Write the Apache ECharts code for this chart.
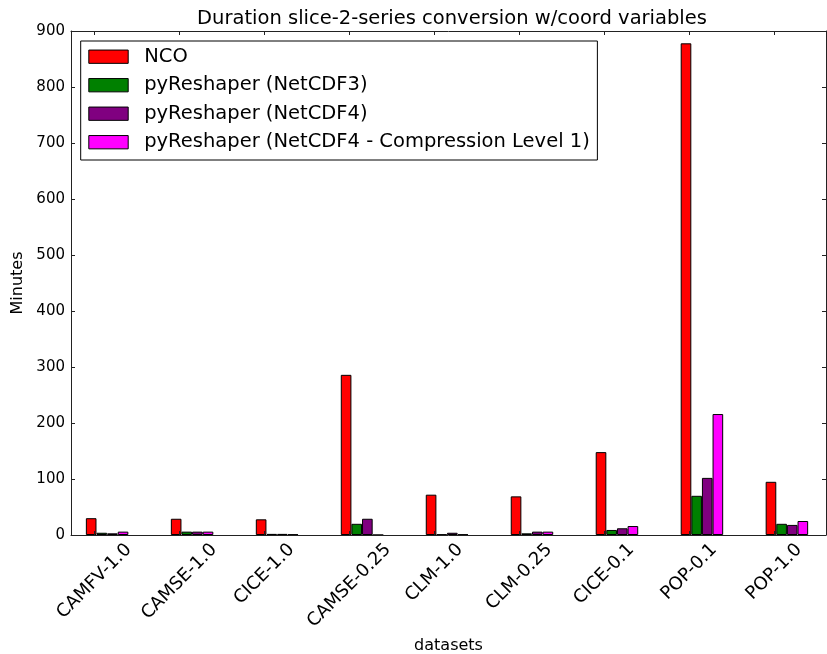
<!DOCTYPE html>
<html>
<head>
<meta charset="utf-8">
<script src="https://cdn.jsdelivr.net/npm/echarts@6/dist/echarts.min.js"></script>
<style>
html,body{margin:0;padding:0;background:#fff;}
#chart{width:827px;height:654px;}
</style>
</head>
<body>
<div id="chart"></div>
<script>
// ---- data ----
const categories = ['CAMFV-1.0','CAMSE-1.0','CICE-1.0','CAMSE-0.25','CLM-1.0','CLM-0.25','CICE-0.1','POP-0.1','POP-1.0'];
const seriesNames = ['NCO','pyReshaper (NetCDF3)','pyReshaper (NetCDF4)','pyReshaper (NetCDF4 - Compression Level 1)'];
const ncoValues      = [30, 29, 28, 286, 72, 69, 148, 878, 95];
const netcdf3Values  = [4, 6, 2, 20, 1, 3, 9, 70, 20];
const netcdf4Values  = [3, 6, 2, 29, 4, 6, 12, 102, 18];
const netcdf4cValues = [6, 6, 1, 0, 1, 6, 16, 216, 25];
const yTickValues = [0,100,200,300,400,500,600,700,800,900];

// ---- layout / style ----
const FONT = 'DejaVu Sans';
const colors = ['#ff0000','#008000','#800080','#ff00ff'];
const allValues = [ncoValues, netcdf3Values, netcdf4Values, netcdf4cValues];
const BAR_W = 0.125;      // bar width in axis units
const TICK_OFF = 0.1;     // tick offset from group origin
const X_MIN = -0.175, X_MAX = 8.71;
const GRID = {left:71, right:1, top:31, bottom:119};
const plotW = 827 - GRID.left - GRID.right;
const barPx = BAR_W * plotW / (X_MAX - X_MIN);

const tickVals = categories.map((c,i)=> i + TICK_OFF);

// per-label shift so rotated labels hang like matplotlib (bbox top at fixed y, centred on tick)
const LABEL_FS = 18;
const ctx = document.createElement('canvas').getContext('2d');
ctx.font = LABEL_FS + 'px "' + FONT + '"';
const rich = {};
categories.forEach((c,i)=>{
  const w = ctx.measureText(c).width - 2;
  const d = 8 + 0.3536 * (w + 0.729 * LABEL_FS);
  const p = 1.4142 * d;
  rich['l'+i] = {fontSize: LABEL_FS, fontFamily: FONT, color:'#000', padding:[p, p, 0, 0]};
});

const axisLineStyle = {color:'#222', width:1};

const series = allValues.map((vals, j) => ({
  name: seriesNames[j],
  type: 'bar',
  barWidth: barPx,
  barGap: '-100%',
  data: vals.map((v,i)=> [i + (j + 0.5) * BAR_W, v]),
  itemStyle: {color: colors[j], borderColor:'#000', borderWidth:1},
  emphasis: {disabled:true}
}));

const chart = echarts.init(document.getElementById('chart'), null, {renderer:'canvas'});
chart.setOption({
  animation: false,
  backgroundColor: '#fff',
  title: {
    text: 'Duration slice-2-series conversion w/coord variables',
    left: 452, top: 9, padding: 0, textAlign: 'center',
    textStyle: {fontFamily: FONT, fontSize: 19.5, fontWeight:'normal', color:'#000'}
  },
  legend: {
    orient: 'vertical', left: 80.7, top: 41,
    padding: [5.7, 7.6, 7.8, 7.6],
    itemWidth: 39.4, itemHeight: 13.3, itemGap: 8.5,
    icon: 'rect',
    itemStyle: {borderColor:'#000', borderWidth:1},
    textStyle: {fontFamily: FONT, fontSize: 19.5, color:'#000', lineHeight: 20, padding:[0,0,0,11]},
    backgroundColor: '#fff', borderColor: '#000', borderWidth: 1, borderRadius: 0,
    selectedMode: false,
    data: seriesNames
  },
  grid: {left: GRID.left, right: GRID.right, top: GRID.top, bottom: GRID.bottom, containLabel:false, outerBoundsMode:'none'},
  xAxis: [
    {
      type: 'value', position: 'bottom', min: X_MIN, max: X_MAX, z: 3,
      axisLine: {show:true, onZero:false, lineStyle: axisLineStyle},
      axisTick: {show:true, inside:true, length:4, customValues: tickVals, lineStyle: axisLineStyle},
      axisLabel: {
        show: true, customValues: tickVals, rotate: 45, margin: 0,
        align: 'center', verticalAlign: 'middle',
        formatter: (v)=> { const i = Math.round(v - TICK_OFF); return '{l'+i+'|'+categories[i]+'}'; },
        rich: rich
      },
      splitLine: {show:false},
      name: 'datasets', nameLocation: 'middle', nameGap: 96,
      nameTextStyle: {fontFamily: FONT, fontSize: 16, color:'#000'}
    },
    {
      type: 'value', position: 'top', min: X_MIN, max: X_MAX, z: 3,
      axisLine: {show:true, onZero:false, lineStyle: axisLineStyle},
      axisTick: {show:true, inside:true, length:4, customValues: tickVals, lineStyle: axisLineStyle},
      axisLabel: {show:false},
      splitLine: {show:false}
    }
  ],
  yAxis: [
    {
      type: 'value', position: 'left', min: 0, max: 900, interval: 100, z: 3,
      axisLine: {show:true, onZero:false, lineStyle: axisLineStyle},
      axisTick: {show:true, inside:true, length:4, lineStyle: axisLineStyle},
      axisLabel: {show:true, customValues: yTickValues, margin: 6, fontFamily: FONT, fontSize: 15, color:'#000'},
      splitLine: {show:false},
      name: 'Minutes', nameLocation: 'middle', nameGap: 42, nameRotate: 90,
      nameTextStyle: {fontFamily: FONT, fontSize: 16, color:'#000'}
    },
    {
      type: 'value', position: 'right', min: 0, max: 900, interval: 100, z: 3,
      axisLine: {show:true, onZero:false, lineStyle: axisLineStyle},
      axisTick: {show:true, inside:true, length:4, lineStyle: axisLineStyle},
      axisLabel: {show:false},
      splitLine: {show:false}
    }
  ],
  series: series
});
</script>
</body>
</html>
